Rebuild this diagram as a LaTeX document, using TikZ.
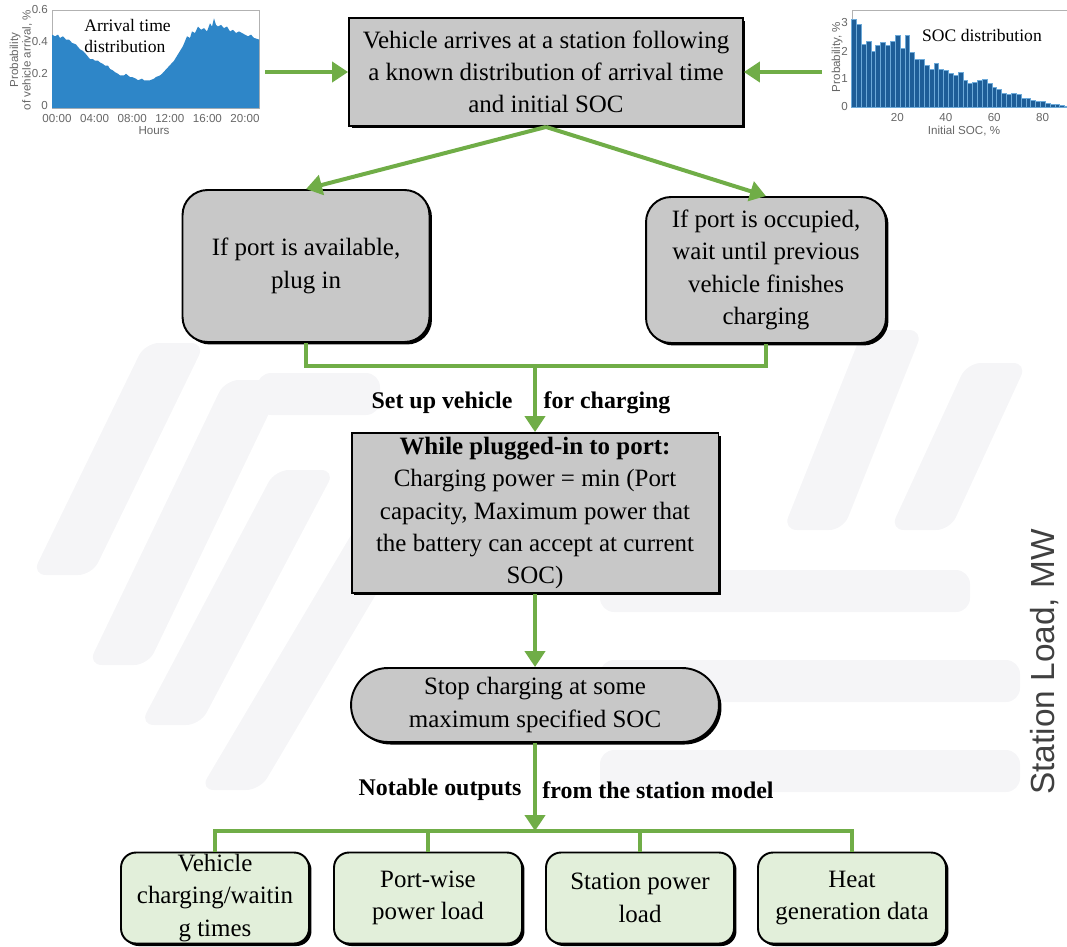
\documentclass[tikz,border=0pt]{standalone}
\usepackage{fontspec}
\setmainfont{Liberation Serif}
\newfontfamily\plotsans{Liberation Sans}
\usetikzlibrary{arrows.meta,shadows,shapes.misc}
\definecolor{flowgreen}{RGB}{112,173,71}
\definecolor{boxgray}{RGB}{200,200,200}
\definecolor{outgreen}{RGB}{226,239,218}
\definecolor{wmgray}{RGB}{245,245,247}
\definecolor{areablue}{RGB}{46,134,200}
\definecolor{barblue}{RGB}{30,94,152}
\newcommand{\flowsize}{\fontsize{14.2}{18.4}\selectfont}
\newcommand{\plotsize}{\plotsans\fontsize{6.6}{7.1}\selectfont}
\tikzset{
  boxshadow/.style={drop shadow={shadow xshift=0.05cm, shadow yshift=-0.05cm, fill=black, opacity=1}},
  procbox/.style={draw, line width=1.1pt, fill=boxgray, align=center, font=\flowsize, inner sep=0pt, boxshadow},
  choicebox/.style={procbox, rounded corners=0.5cm},
  endbox/.style={procbox, rounded rectangle},
  outbox/.style={procbox, fill=outgreen, rounded corners=0.3cm, minimum width=3.76cm, minimum height=1.82cm},
  flowline/.style={draw=flowgreen, line width=0.08cm},
  flow/.style={flowline, -{Triangle[length=0.32cm,width=0.4cm]}},
  steplabel/.style={font=\bfseries\fontsize{13.6}{16}\selectfont},
  ticklabel/.style={font=\plotsize, text=black!60, inner sep=1pt},
  charttitle/.style={font=\fontsize{10}{12.5}\selectfont, align=left, inner sep=0pt}
}
\begin{document}
\begin{tikzpicture}[x=0.02cm,y=-0.02cm]
\useasboundingbox (0,0) rectangle (1067,946);
\clip (0,0) rectangle (1067,946);

% faint background logo
\foreach \xa/\ya/\xb/\yb in {32/575/145/343, 88/665/225/380, 140/725/275/470, 200/790/360/520, 783/530/863/330, 890/530/967/363}
  \fill[wmgray, rounded corners=8pt] (\xa,\ya) -- ++(60,0) -- ({\xb+60},\yb) -- (\xb,\yb) -- cycle;
\foreach \xa/\ya/\xb in {257/373/380, 600/570/970, 600/660/1020, 600/750/1020}
  \fill[wmgray, rounded corners=8pt] (\xa,\ya) rectangle (\xb,{\ya+42});

% arrival time chart
\draw[black!30, line width=0.4pt] (52,10) rectangle (259,108);
\begin{scope}[shift={(0,108)}, y=3.26cm]
  \fill[areablue] (52,0) \foreach \x/\v in {52/0.45, 55/0.44, 58/0.45, 60/0.43, 63/0.44, 66/0.42, 69/0.42, 72/0.40, 76/0.39, 80/0.36, 83/0.35, 86/0.33, 90/0.30, 93/0.30, 95/0.29, 98/0.29, 100/0.28, 103/0.27, 105/0.26, 108/0.26, 110/0.24, 113/0.23, 115/0.22, 118/0.21, 120/0.20, 124/0.20, 126/0.21, 130/0.19, 132/0.19, 136/0.18, 138/0.17, 142/0.18, 144/0.17, 148/0.17, 150/0.17, 154/0.18, 156/0.19, 160/0.20, 162/0.21, 165/0.23, 168/0.25, 171/0.27, 174/0.29, 177/0.32, 180/0.35, 183/0.38, 187/0.44, 190/0.43, 192/0.47, 195/0.46, 198/0.50, 201/0.48, 204/0.49, 207/0.47, 210/0.52, 212/0.50, 214/0.55, 216/0.51, 218/0.50, 221/0.51, 224/0.49, 227/0.50, 230/0.47, 233/0.48, 236/0.46, 239/0.47, 242/0.46, 245/0.45, 248/0.44, 251/0.45, 254/0.43, 259/0.42} {-- (\x,\v)} -- (259,0) -- cycle;
\end{scope}
\foreach \v in {0,0.2,0.4,0.6}
  \node[ticklabel, anchor=east] at (50,{106-160*\v}) {\v};
\foreach \h/\t in {0/00:00, 4/04:00, 8/08:00, 12/12:00, 16/16:00, 20/20:00}
  \node[ticklabel] at ({57+9.4*\h},119) {\t};
\node[ticklabel, rotate=90, align=center] (arrylabel) at (21,60) {Probability\\of vehicle arrival, \%};
\node[ticklabel] (arrxlabel) at (154,131) {Hours};
\node[charttitle, anchor=west] (arrtitle) at (84,36) {Arrival time\\distribution};

% initial SOC chart
\draw[black!30, line width=0.4pt] (852,10) rectangle (1067,107);
\begin{scope}[shift={(849,107)}, x=0.0484cm, y=0.56cm]
  \foreach \s/\v in {1/3.15, 3/2.95, 5/2.25, 7/2.35, 9/2.0, 11/2.2, 13/2.3, 15/2.2, 17/2.35, 19/2.55, 21/2.1, 23/2.55, 25/1.95, 27/1.7, 29/1.7, 31/1.5, 33/1.35, 35/1.55, 37/1.35, 39/1.3, 41/1.2, 43/1.15, 45/1.25, 47/0.95, 49/0.85, 51/0.9, 53/0.95, 55/1.0, 57/0.85, 59/0.7, 61/0.65, 63/0.5, 65/0.45, 67/0.5, 69/0.45, 71/0.3, 73/0.3, 75/0.25, 77/0.2, 79/0.2, 81/0.15, 83/0.12, 85/0.1, 87/0.05, 89/0.03}
    \filldraw[fill=barblue, draw=areablue!70, line width=0.15pt] (\s,0) rectangle ++(2,\v);
\end{scope}
\foreach \v in {0,1,2,3}
  \node[ticklabel, anchor=east] at (850,{107-28*\v}) {\v};
\foreach \s in {20,40,60,80}
  \node[ticklabel] at ({849+2.42*\s},118) {\s};
\node[ticklabel, rotate=90] (socylabel) at (837,57) {Probability, \%};
\node[ticklabel] (socxlabel) at (964,131) {Initial SOC, \%};
\node[charttitle] (soctitle) at (982,35) {SOC distribution};

\node[font=\plotsans\fontsize{19}{22}\selectfont, text=black!75, rotate=90] (loadlabel) at (1045,662) {Station Load, MW};

% flow chart
\node[procbox, minimum width=7.88cm, minimum height=2.16cm] (arrive) at (546,72) {Vehicle arrives at a station following\\a known distribution of arrival time\\and initial SOC};
\node[choicebox, minimum width=4.94cm, minimum height=3.04cm] (avail) at (306,266) {If port is available,\\plug in};
\node[choicebox, minimum width=4.8cm, minimum height=2.92cm] (occup) at (766,270) {If port is occupied,\\wait until previous\\vehicle finishes\\charging};
\node[procbox, minimum width=7.34cm, minimum height=3.2cm] (plugged) at (535,513) {\textbf{While plugged-in to port:}\\Charging power = min (Port\\capacity, Maximum power that\\the battery can accept at current\\SOC)};
\node[endbox, minimum width=7.36cm, minimum height=1.48cm] (stopsoc) at (535,705) {Stop charging at some\\maximum specified SOC};
\node[outbox] (outtimes) at (215,898) {Vehicle\\charging/waitin\\g times};
\node[outbox] (outport) at (428,898) {Port-wise\\power load};
\node[outbox] (outstation) at (640,898) {Station power\\load};
\node[outbox] (outheat) at (852,898) {Heat\\generation data};

\coordinate (arrsrc) at (265,72);
\coordinate (socsrc) at (822,72);
\coordinate (merge) at (535,366);
\coordinate (bus) at (535,831);

\draw[flow] (arrsrc) -- (arrive.west);
\draw[flow] (socsrc) -- (arrive.east);
\draw[flow] (arrive.south) -- (avail.north);
\draw[flow] (arrive.south) -- (occup.north);
\draw[flowline] (avail.south) |- (merge) -| (occup.south);
\draw[flow] (merge) -- (plugged.north);
\node[steplabel] (setlabel) at (442,403) {Set up vehicle};
\node[steplabel] (forlabel) at (607,403) {for charging};
\draw[flow] (plugged.south) -- (stopsoc.north);
\draw[flow] (stopsoc.south) -- (bus);
\node[steplabel] (notelabel) at (440,790) {Notable outputs};
\node[steplabel] (fromlabel) at (658,790) {from the station model};
\draw[flowline] (outtimes.north) |- (bus) -| (outheat.north);
\draw[flowline] (outport.north) -- (outport.north |- bus);
\draw[flowline] (outstation.north) -- (outstation.north |- bus);
\end{tikzpicture}
\end{document}
